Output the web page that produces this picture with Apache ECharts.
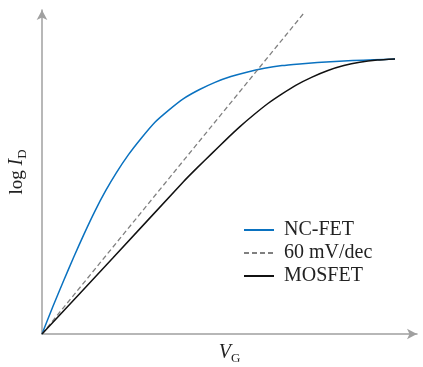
<!DOCTYPE html>
<html>
<head>
<meta charset="utf-8">
<script src="https://cdn.jsdelivr.net/npm/echarts@6/dist/echarts.min.js"></script>
<style>
  html, body { margin: 0; padding: 0; background: #fff; }
  #main { width: 423px; height: 367px; }
</style>
</head>
<body>
<div id="main"></div>
<script>
// schematic curves, normalised units (end of saturation = 1, 1)
var ncfet = [
  [0, 0], [0.03, 0.097], [0.06, 0.19], [0.09, 0.28], [0.12, 0.366],
  [0.15, 0.447], [0.18, 0.52], [0.21, 0.585], [0.245, 0.652], [0.28, 0.71],
  [0.32, 0.77], [0.36, 0.815], [0.4, 0.855], [0.445, 0.888], [0.49, 0.915],
  [0.535, 0.936], [0.58, 0.952], [0.63, 0.966], [0.68, 0.976], [0.73, 0.982],
  [0.78, 0.987], [0.83, 0.991], [0.88, 0.994], [0.94, 0.997], [1, 1]
];
var mosfet = [
  [0, 0], [0.2, 0.275], [0.4, 0.553], [0.44, 0.605], [0.48, 0.655],
  [0.52, 0.705], [0.56, 0.753], [0.6, 0.797], [0.64, 0.838], [0.68, 0.873],
  [0.72, 0.905], [0.765, 0.934], [0.81, 0.958], [0.855, 0.976], [0.9, 0.988],
  [0.95, 0.996], [1, 1]
];
var slope60 = [[0, 0], [0.742, 1.167]];
var names = ['NC-FET', '60 mV/dec', 'MOSFET'];

var serif = '"Liberation Serif", "DejaVu Serif", serif';
var axisColor = '#a0a0a0';

var dom = document.getElementById('main');
var myChart = echarts.init(dom);
var option = {
  animation: false,
  grid: { left: 42, right: 6, top: 10, bottom: 33, outerBoundsMode: 'none' },
  legend: {
    orient: 'vertical',
    left: 238,
    top: 215,
    itemWidth: 30,
    itemHeight: 12,
    itemGap: 3,
    itemStyle: { opacity: 0 },
    textStyle: { fontFamily: serif, fontSize: 20, color: '#222', padding: [0, 0, 0, 5] },
    data: names
  },
  xAxis: {
    type: 'value',
    min: 0,
    max: 1.0623,
    splitLine: { show: false },
    axisTick: { show: false },
    axisLabel: { show: false },
    axisLine: { lineStyle: { color: axisColor, width: 1.5 }, symbol: ['none', 'arrow'], symbolSize: [8, 10] },
    name: '{i|V}{s|G}',
    nameLocation: 'middle',
    nameGap: 7,
    nameTextStyle: {
      rich: {
        i: { fontFamily: serif, fontStyle: 'italic', fontSize: 20, color: '#222', lineHeight: 24 },
        s: { fontFamily: serif, fontSize: 13, color: '#222', lineHeight: 24, verticalAlign: 'bottom' }
      }
    }
  },
  yAxis: {
    type: 'value',
    min: 0,
    max: 1.178,
    splitLine: { show: false },
    axisTick: { show: false },
    axisLabel: { show: false },
    axisLine: { lineStyle: { color: axisColor, width: 1.5 }, symbol: ['none', 'arrow'], symbolSize: [8, 10] },
    name: '{a|log }{i|I}{s|D}',
    nameLocation: 'middle',
    nameGap: 13,
    nameTextStyle: {
      rich: {
        a: { fontFamily: serif, fontSize: 19, color: '#222', lineHeight: 24 },
        i: { fontFamily: serif, fontStyle: 'italic', fontSize: 20, color: '#222', lineHeight: 24 },
        s: { fontFamily: serif, fontSize: 13, color: '#222', lineHeight: 24, verticalAlign: 'bottom' }
      }
    }
  },
  series: [
    {
      name: names[0], type: 'line', data: ncfet, smooth: 0.2, symbol: 'none',
      lineStyle: { color: '#0a72c0', width: 1.5 }, itemStyle: { color: '#0a72c0' }
    },
    {
      name: names[1], type: 'line', data: slope60, symbol: 'none',
      lineStyle: { color: '#808080', width: 1.3, type: [5, 3] }, itemStyle: { color: '#808080' }
    },
    {
      name: names[2], type: 'line', data: mosfet, smooth: 0.2, symbol: 'none',
      lineStyle: { color: '#111', width: 1.5 }, itemStyle: { color: '#111' }
    }
  ]
};

if (option && typeof option === 'object') {
  myChart.setOption(option, true);
}
</script>
</body>
</html>
